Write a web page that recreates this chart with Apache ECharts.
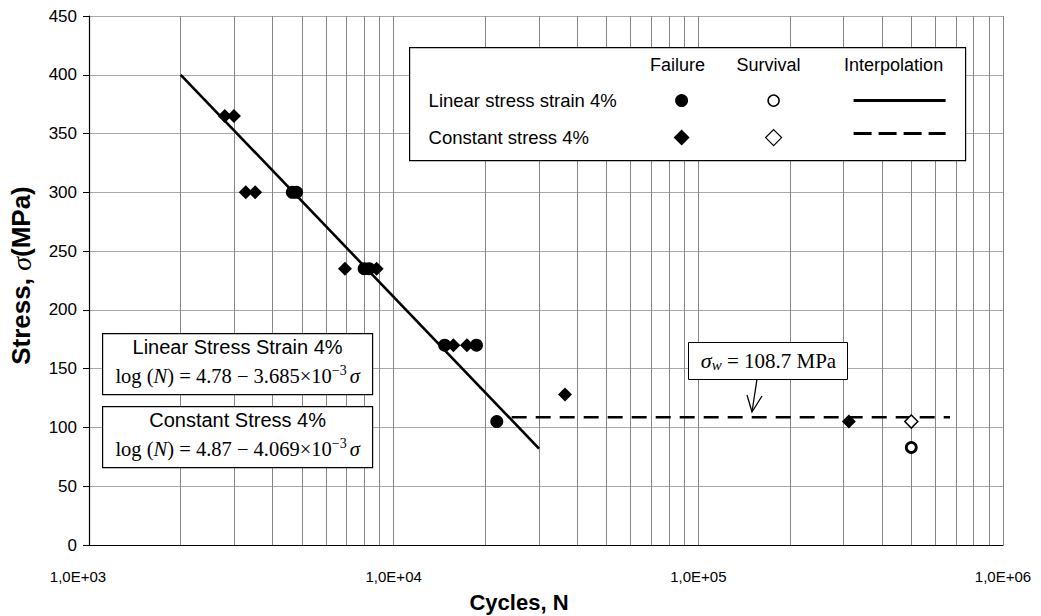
<!DOCTYPE html>
<html><head><meta charset="utf-8">
<script src="https://cdn.jsdelivr.net/npm/echarts@6/dist/echarts.min.js"></script>
<style>html,body{margin:0;padding:0;background:#fff}#c{width:1041px;height:616px}</style>
</head><body><div id="c"></div>
<script>
// ---- data ----
const xTickLabels = ['1,0E+03', '1,0E+04', '1,0E+05', '1,0E+06'];
const verticalGridCycles = [2000, 3000, 4000, 5000, 6000, 7000, 8000, 9000, 10000,
  20000, 30000, 40000, 50000, 60000, 70000, 80000, 90000, 100000,
  200000, 300000, 400000, 500000, 600000, 700000, 800000, 900000, 1000000];
const linearFailure = [[4650, 300], [4800, 300], [8000, 235], [8300, 235], [14700, 170], [18700, 170], [21800, 105]];
const constantFailure = [[2790, 365], [2990, 365], [3270, 300], [3510, 300], [6920, 235], [8790, 235],
  [15700, 170], [17400, 170], [36500, 128], [312000, 105]];
const linearSurvival = [[500000, 83]];
const constantSurvival = [[500000, 105]];
const linearInterpolation = [[2000, 400], [30000, 82]];
const constantInterpolation = [[24400, 108.7], [670000, 108.7]];
const fatigueLimit = 108.7;

const SANS = 'Liberation Sans, Arial, sans-serif';
const SERIF = 'Liberation Serif, Times New Roman, serif';

const chart = echarts.init(document.getElementById('c'), null, { renderer: 'svg' });

const eqRich = {
  n: { fontFamily: SERIF, fontSize: 20.5, color: '#000' },
  i: { fontFamily: SERIF, fontSize: 20.5, fontStyle: 'italic', color: '#000' },
  sup: { fontFamily: SERIF, fontSize: 14, color: '#000', padding: [0, 3, 11, 0] }
};

function eqBox(y, title, eq) {
  return {
    type: 'group', left: 102, top: y, z: 100, children: [
      { type: 'rect', z: 100, shape: { x: 0, y: 0, width: 270, height: 61 }, style: { fill: '#fff', stroke: '#000', lineWidth: 1.2 } },
      { type: 'text', z: 101, x: 135, y: 13, style: { text: title, font: '20px ' + SANS, fill: '#000', align: 'center', verticalAlign: 'middle' } },
      { type: 'text', z: 101, x: 135, y: 42, style: { text: eq, rich: eqRich, align: 'center', verticalAlign: 'middle' } }
    ]
  };
}

const option = {
  animation: false,
  backgroundColor: '#fff',
  grid: { left: 89, right: 38, top: 16, bottom: 71, containLabel: false, outerBoundsMode: 'none' },
  xAxis: {
    type: 'log', logBase: 10, min: 1000, max: 1000000, splitNumber: 3,
    name: 'Cycles, N', nameLocation: 'middle', nameGap: 46,
    nameTextStyle: { fontFamily: SANS, fontSize: 22, fontWeight: 'bold', color: '#000', padding: [0, 54, 0, 0] },
    axisLine: { lineStyle: { color: '#000', width: 1.2 } },
    axisTick: { show: false },
    axisLabel: {
      fontFamily: SANS, fontSize: 15, color: '#000', margin: 24,
      formatter: (v) => {
        const i = Math.round(Math.log10(v)) - 3;
        return i === 0 ? '{first|' + xTickLabels[i] + '}' : xTickLabels[i];
      },
      rich: { first: { fontFamily: SANS, fontSize: 15, color: '#000', padding: [0, 22, 0, 0] } }
    },
    splitLine: { show: false }
  },
  yAxis: {
    type: 'value', min: 0, max: 450, interval: 50,
    name: '{b|Stress, }{s|σ}{b|(MPa)}', nameLocation: 'middle', nameGap: 54, nameRotate: 90,
    nameTextStyle: {
      padding: [0, 0, 0, 10],
      rich: {
        b: { fontFamily: SANS, fontSize: 26, fontWeight: 'bold', color: '#000' },
        s: { fontFamily: SERIF, fontSize: 28, fontStyle: 'italic', color: '#000' }
      }
    },
    axisLine: { show: true, lineStyle: { color: '#000', width: 1.2 } },
    axisTick: { show: true, inside: false, length: 6, lineStyle: { color: '#000' } },
    axisLabel: { fontFamily: SANS, fontSize: 17, color: '#000', margin: 12 },
    splitLine: { show: true, lineStyle: { color: '#a8a8a8', width: 1 } }
  },
  series: [
    {
      name: 'grid', type: 'line', data: [], silent: true, z: 1,
      markLine: {
        silent: true, symbol: 'none', label: { show: false }, z: 1,
        lineStyle: { color: '#858585', width: 1, type: 'solid' },
        data: verticalGridCycles.map(v => ({ xAxis: v }))
      }
    },
    {
      name: 'Linear stress strain 4% interpolation', type: 'line', data: linearInterpolation,
      symbol: 'none', lineStyle: { color: '#000', width: 2.6 }, z: 3
    },
    {
      name: 'Constant stress 4% interpolation', type: 'line', data: constantInterpolation,
      symbol: 'none', lineStyle: { color: '#000', width: 2.6, type: [15, 9] }, z: 3
    },
    {
      name: 'Linear stress strain 4% failure', type: 'scatter', data: linearFailure,
      symbol: 'circle', symbolSize: 13, itemStyle: { color: '#000', opacity: 1 }, z: 4
    },
    {
      name: 'Constant stress 4% failure', type: 'scatter', data: constantFailure,
      symbol: 'diamond', symbolSize: 14, itemStyle: { color: '#000', opacity: 1 }, z: 4
    },
    {
      name: 'Linear stress strain 4% survival', type: 'scatter', data: linearSurvival,
      symbol: 'circle', symbolSize: 10, itemStyle: { color: '#fff', borderColor: '#000', borderWidth: 2.8, opacity: 1 }, z: 4
    },
    {
      name: 'Constant stress 4% survival', type: 'scatter', data: constantSurvival,
      symbol: 'diamond', symbolSize: 13, itemStyle: { color: '#fff', borderColor: '#000', borderWidth: 1.5, opacity: 1 }, z: 4
    }
  ],
  graphic: [
    // legend table
    {
      type: 'group', left: 409, top: 47, z: 100, children: [
        { type: 'rect', z: 100, shape: { x: 0, y: 0, width: 556, height: 113 }, style: { fill: '#fff', stroke: '#000', lineWidth: 1.2 } },
        { type: 'text', z: 101, x: 268, y: 17, style: { text: 'Failure', font: '18px ' + SANS, fill: '#000', align: 'center', verticalAlign: 'middle' } },
        { type: 'text', z: 101, x: 359, y: 17, style: { text: 'Survival', font: '18px ' + SANS, fill: '#000', align: 'center', verticalAlign: 'middle' } },
        { type: 'text', z: 101, x: 484, y: 17, style: { text: 'Interpolation', font: '18px ' + SANS, fill: '#000', align: 'center', verticalAlign: 'middle' } },
        { type: 'text', z: 101, x: 19, y: 53, style: { text: 'Linear stress strain 4%', font: '18.5px ' + SANS, fill: '#000', align: 'left', verticalAlign: 'middle' } },
        { type: 'text', z: 101, x: 19, y: 90, style: { text: 'Constant stress 4%', font: '18.5px ' + SANS, fill: '#000', align: 'left', verticalAlign: 'middle' } },
        { type: 'circle', z: 101, shape: { cx: 272, cy: 53, r: 6.5 }, style: { fill: '#000' } },
        { type: 'circle', z: 101, shape: { cx: 364, cy: 53, r: 5.5 }, style: { fill: '#fff', stroke: '#000', lineWidth: 1.5 } },
        { type: 'line', z: 101, shape: { x1: 444, y1: 53, x2: 536, y2: 53 }, style: { stroke: '#000', lineWidth: 3 } },
        { type: 'polygon', z: 101, shape: { points: [[272, 82], [280, 90], [272, 98], [264, 90]] }, style: { fill: '#000' } },
        { type: 'polygon', z: 101, shape: { points: [[364, 82], [372, 90], [364, 98], [356, 90]] }, style: { fill: '#fff', stroke: '#000', lineWidth: 1.2 } },
        { type: 'line', z: 101, shape: { x1: 444, y1: 86, x2: 536, y2: 86 }, style: { stroke: '#000', lineWidth: 3, lineDash: [18, 7] } }
      ]
    },
    eqBox(333, 'Linear Stress Strain 4%', '{n|log (}{i|N}{n|) = 4.78 − 3.685×10}{sup|−3}{i|σ}'),
    eqBox(406, 'Constant Stress 4%', '{n|log (}{i|N}{n|) = 4.87 − 4.069×10}{sup|−3}{i|σ}'),
    // fatigue limit annotation
    {
      type: 'group', left: 688, top: 342, z: 100, children: [
        { type: 'rect', z: 100, shape: { x: 0, y: 0, width: 159, height: 37 }, style: { fill: '#fff', stroke: '#000', lineWidth: 1 } },
        {
          type: 'text', z: 101, x: 80, y: 18, style: {
            text: '{i|σ}{sub|w}{n| = ' + fatigueLimit + ' MPa}', align: 'center', verticalAlign: 'middle',
            rich: {
              n: { fontFamily: SERIF, fontSize: 21, color: '#000' },
              i: { fontFamily: SERIF, fontSize: 22, fontStyle: 'italic', color: '#000' },
              sub: { fontFamily: SERIF, fontSize: 15, fontStyle: 'italic', color: '#000', padding: [8, 0, 0, 0] }
            }
          }
        }
      ]
    },
    { type: 'polyline', z: 100, shape: { points: [[757, 379], [752, 412]] }, style: { stroke: '#000', lineWidth: 1.3, fill: null } },
    { type: 'polyline', z: 100, shape: { points: [[747, 395], [752, 412], [762, 396]] }, style: { stroke: '#000', lineWidth: 1.3, fill: null } }
  ]
};
chart.setOption(option);
</script>
</body></html>
